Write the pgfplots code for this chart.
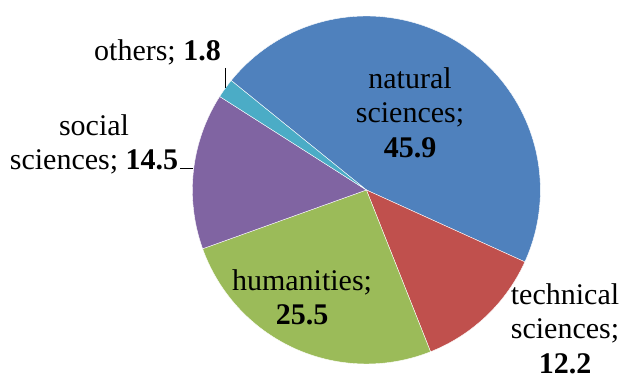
\documentclass[border=0pt]{standalone}
\usepackage{fontspec}
\setmainfont{Liberation Serif}
\usepackage{pgfplots}
\usepackage{pgfplotstable}
\pgfplotsset{compat=1.18}

\definecolor{cNat}{HTML}{4F81BD}
\definecolor{cTec}{HTML}{C0504D}
\definecolor{cHum}{HTML}{9BBB59}
\definecolor{cSoc}{HTML}{8064A2}
\definecolor{cOth}{HTML}{4BACC6}

\pgfplotstableread{
field value
natural 45.9
technical 12.2
humanities 25.5
social 14.5
others 1.8
}\piedata

\pgfplotstablegetelem{0}{value}\of\piedata \let\vA\pgfplotsretval
\pgfplotstablegetelem{1}{value}\of\piedata \let\vB\pgfplotsretval
\pgfplotstablegetelem{2}{value}\of\piedata \let\vC\pgfplotsretval
\pgfplotstablegetelem{3}{value}\of\piedata \let\vD\pgfplotsretval
\pgfplotstablegetelem{4}{value}\of\piedata \let\vE\pgfplotsretval
\pgfmathsetmacro\tot{\vA+\vB+\vC+\vD+\vE}
\pgfmathsetmacro\aA{141}
\pgfmathsetmacro\aB{\aA-\vA/\tot*360}
\pgfmathsetmacro\aC{\aB-\vB/\tot*360}
\pgfmathsetmacro\aD{\aC-\vC/\tot*360}
\pgfmathsetmacro\aE{\aD-\vD/\tot*360}
\pgfmathsetmacro\aF{\aE-\vE/\tot*360}

\def\cx{366.4}
\def\cy{189}
\def\rr{174}

\begin{document}
\begin{tikzpicture}
\begin{axis}[
  scale only axis, width=625pt, height=379pt,
  xmin=0, xmax=625, ymin=0, ymax=379,
  hide axis, clip=false,
  every axis plot/.append style={draw=white, line width=0.4pt},
]
\path (axis cs:0,0) rectangle (axis cs:625,379);
\addplot[fill=cNat, draw=white, domain=\aB:\aA, samples=90]
  ({\cx+\rr*cos(x)},{\cy+\rr*sin(x)}) -- (axis cs:\cx,\cy) -- cycle;
\addplot[fill=cTec, draw=white, domain=\aC:\aB, samples=40]
  ({\cx+\rr*cos(x)},{\cy+\rr*sin(x)}) -- (axis cs:\cx,\cy) -- cycle;
\addplot[fill=cHum, draw=white, domain=\aD:\aC, samples=60]
  ({\cx+\rr*cos(x)},{\cy+\rr*sin(x)}) -- (axis cs:\cx,\cy) -- cycle;
\addplot[fill=cSoc, draw=white, domain=\aE:\aD, samples=40]
  ({\cx+\rr*cos(x)},{\cy+\rr*sin(x)}) -- (axis cs:\cx,\cy) -- cycle;
\addplot[fill=cOth, draw=white, domain=\aF:\aE, samples=10]
  ({\cx+\rr*cos(x)},{\cy+\rr*sin(x)}) -- (axis cs:\cx,\cy) -- cycle;

% leader lines
\addplot[black, line width=1pt] coordinates {(225,311) (225,291)};
\addplot[black, line width=1pt] coordinates {(180,210) (193,210)};

\begin{scope}[every node/.style={font=\fontsize{30}{34.5}\selectfont, align=center, inner sep=0pt}]
\node[anchor=north] at (axis cs:410,312) {natural\\sciences;\\\textbf{45.9}};
\node[anchor=north] at (axis cs:565,96) {technical\\sciences;\\\textbf{12.2}};
\node[anchor=north] at (axis cs:302,110) {humanities;\\\textbf{25.5}};
\node[anchor=north] at (axis cs:94,265) {social\\sciences; \textbf{14.5}};
\node[anchor=base] at (axis cs:157.5,318) {others; \textbf{1.8}};
\end{scope}
\end{axis}
\end{tikzpicture}
\end{document}
